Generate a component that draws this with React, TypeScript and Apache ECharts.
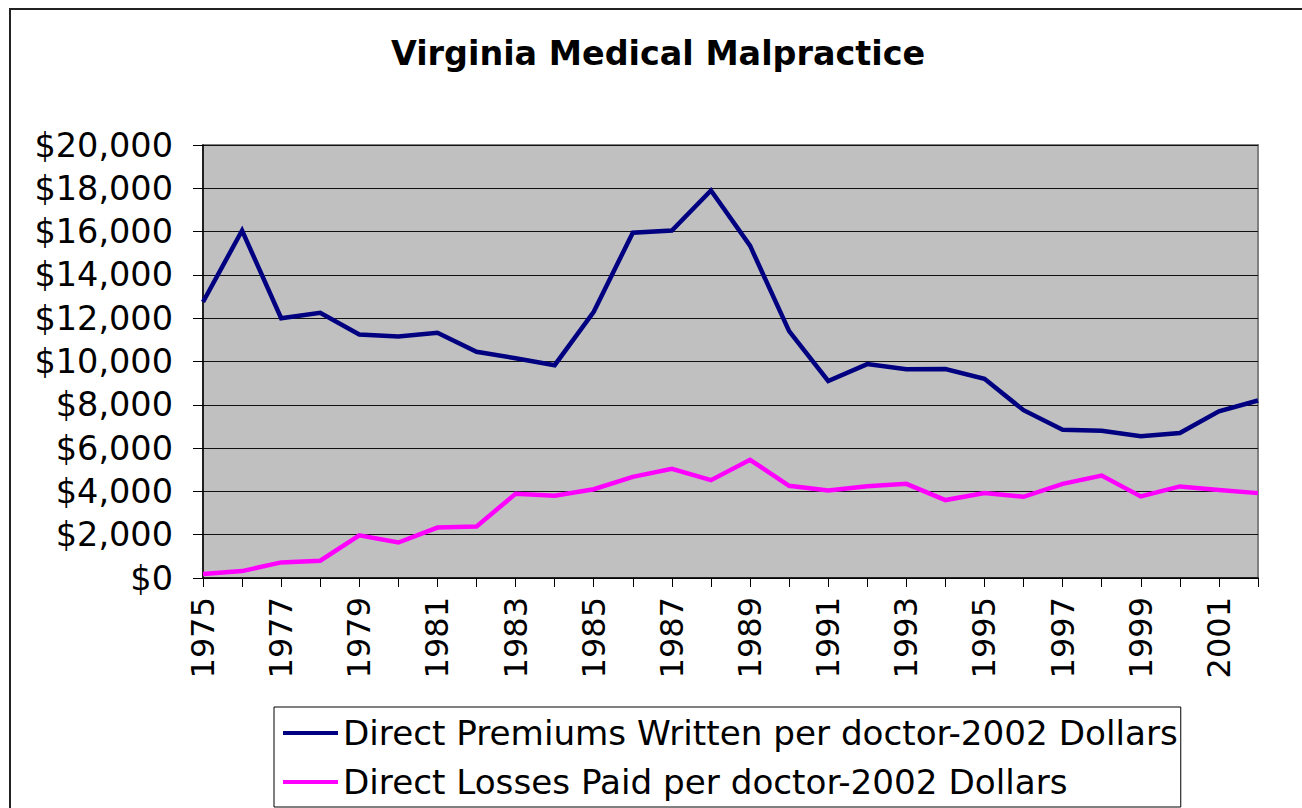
import React, { useEffect, useRef } from "react";
import * as echarts from "echarts";

const years: string[] = [
  "1975", "1976", "1977", "1978", "1979", "1980", "1981", "1982", "1983", "1984",
  "1985", "1986", "1987", "1988", "1989", "1990", "1991", "1992", "1993", "1994",
  "1995", "1996", "1997", "1998", "1999", "2000", "2001", "2002",
];

const premiums: number[] = [
  12750, 16050, 12000, 12250, 11250, 11150, 11330, 10450, 10150, 9830,
  12300, 15950, 16050, 17900, 15350, 11400, 9100, 9880, 9640, 9650,
  9200, 7750, 6850, 6800, 6550, 6700, 7700, 8200,
];

const losses: number[] = [
  180, 320, 720, 800, 1970, 1640, 2330, 2380, 3890, 3800,
  4100, 4670, 5040, 4520, 5460, 4260, 4040, 4240, 4350, 3600,
  3920, 3750, 4350, 4730, 3770, 4230, 4070, 3920,
];

const TITLE = "Virginia Medical Malpractice";
const PREMIUMS_NAME = "Direct Premiums Written per doctor-2002 Dollars";
const LOSSES_NAME = "Direct Losses Paid per doctor-2002 Dollars";

const FONT = "'DejaVu Sans', Verdana, sans-serif";

export default function App() {
  const ref = useRef<HTMLDivElement>(null);

  useEffect(() => {
    document.body.style.margin = "0";
    if (!ref.current) return;
    const chart = echarts.init(ref.current, undefined, { renderer: "svg" });
    chart.setOption({
      animation: false,
      backgroundColor: "#ffffff",
      textStyle: { fontFamily: FONT },
      title: {
        text: TITLE,
        left: 658,
        top: 37,
        padding: 0,
        textAlign: "center",
        textStyle: {
          fontFamily: FONT,
          fontSize: 33.4,
          fontWeight: "bold",
          color: "#000000",
        },
      },
      graphic: [
        {
          type: "rect",
          shape: { x: 10, y: 9, width: 1400, height: 900 },
          style: { fill: "none", stroke: "#222222", lineWidth: 2 },
          silent: true,
          z: -1,
        },
      ],
      legend: {
        orient: "vertical",
        left: 274,
        top: 707,
        padding: [7, 3, 6, 9],
        itemGap: 11,
        itemWidth: 55,
        itemHeight: 4,
        icon: "rect",
        borderColor: "#000000",
        borderWidth: 1,
        backgroundColor: "#ffffff",
        textStyle: {
          fontFamily: FONT,
          fontSize: 34.2,
          color: "#000000",
          lineHeight: 38,
        },
        data: [PREMIUMS_NAME, LOSSES_NAME],
      },
      grid: {
        left: 203,
        right: 44,
        top: 145,
        bottom: 230,
        show: true,
        backgroundColor: "#C0C0C0",
        borderColor: "#808080",
        borderWidth: 2,
        containLabel: false,
      },
      xAxis: {
        type: "category",
        data: years,
        boundaryGap: false,
        axisLine: { show: true, lineStyle: { color: "#000000", width: 1.5 } },
        axisTick: {
          show: true,
          interval: 0,
          length: 9,
          lineStyle: { color: "#000000", width: 1 },
        },
        axisLabel: {
          interval: 1,
          rotate: 90,
          margin: 19,
          fontFamily: FONT,
          fontSize: 32,
          color: "#000000",
        },
        splitLine: { show: false },
      },
      yAxis: {
        type: "value",
        min: 0,
        max: 20000,
        interval: 2000,
        axisLine: { show: true, lineStyle: { color: "#000000", width: 1.5 } },
        axisTick: {
          show: true,
          length: 10,
          lineStyle: { color: "#000000", width: 1 },
        },
        axisLabel: {
          margin: 30,
          fontFamily: FONT,
          fontSize: 33.5,
          color: "#000000",
          formatter: (v: number) => "$" + v.toLocaleString("en-US"),
        },
        splitLine: { show: true, lineStyle: { color: "#111111", width: 1 } },
      },
      series: [
        {
          name: PREMIUMS_NAME,
          type: "line",
          data: premiums,
          symbol: "none",
          showSymbol: false,
          color: "#000080",
          lineStyle: { color: "#000080", width: 4.5, join: "miter" },
        },
        {
          name: LOSSES_NAME,
          type: "line",
          data: losses,
          symbol: "none",
          showSymbol: false,
          color: "#FF00FF",
          lineStyle: { color: "#FF00FF", width: 4.5, join: "miter" },
        },
      ],
    });
    return () => chart.dispose();
  }, []);

  return <div ref={ref} style={{ width: 1302, height: 808 }} />;
}
